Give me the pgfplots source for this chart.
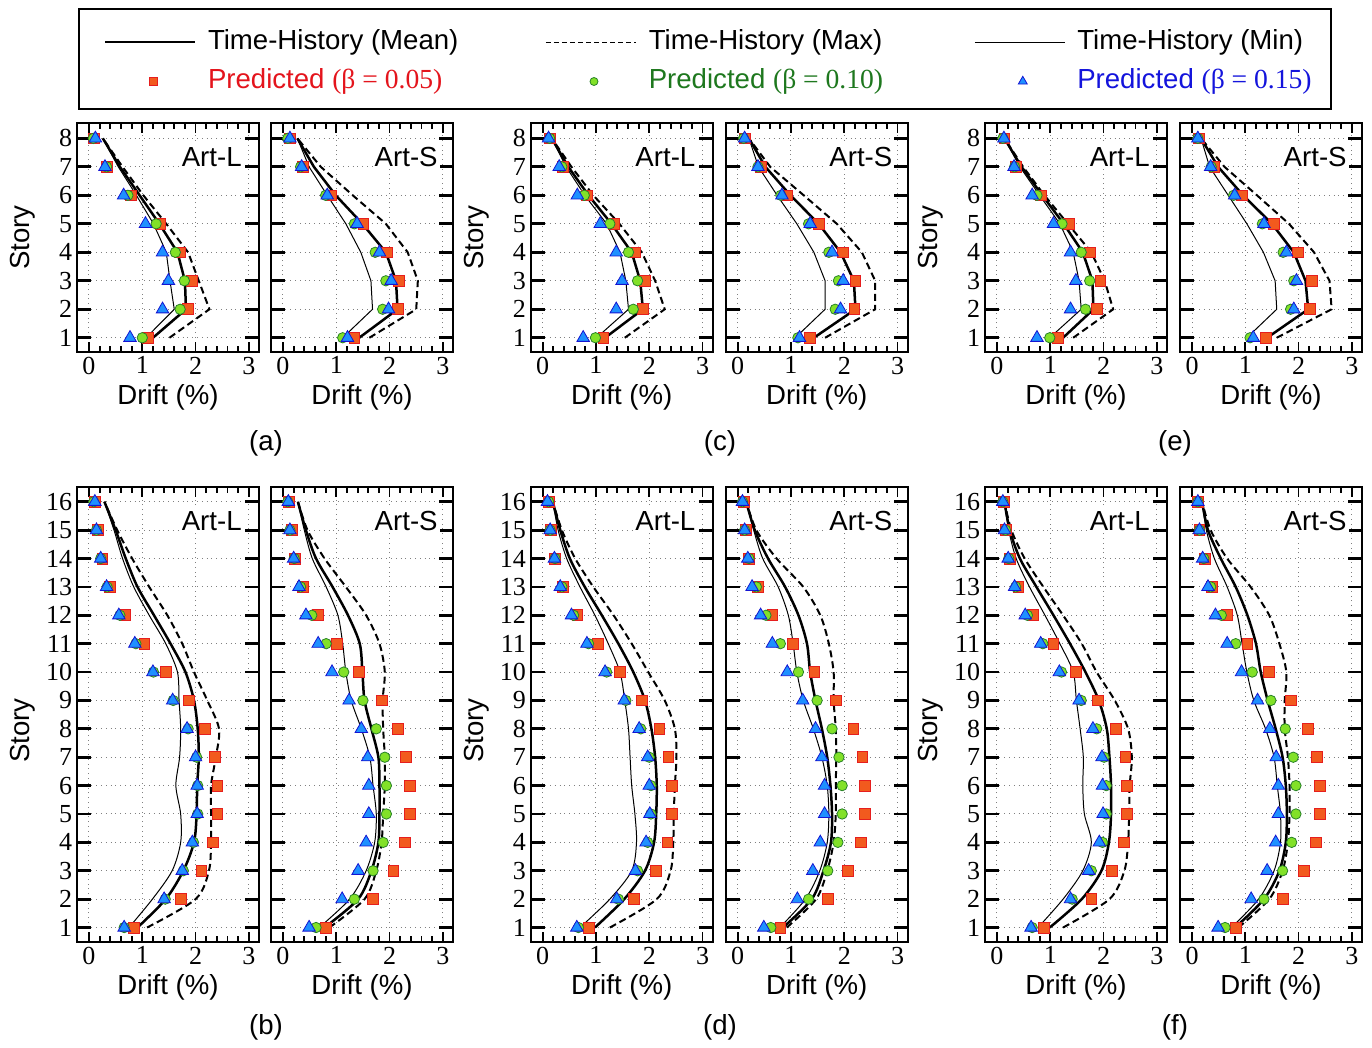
\documentclass[border=0pt]{standalone}
\usepackage{pgfplots}
\pgfplotsset{compat=1.18}
\usepackage{pgfplotstable}
\usepackage{fontspec}
\setmainfont{Liberation Sans}
\newfontfamily\tms{Liberation Serif}

\definecolor{sqfill}{RGB}{242,90,30}
\definecolor{sqedge}{RGB}{230,30,30}
\definecolor{cifill}{RGB}{130,225,40}
\definecolor{ciedge}{RGB}{40,130,40}
\definecolor{trfill}{RGB}{30,144,255}
\definecolor{tredge}{RGB}{20,20,210}
\definecolor{lred}{RGB}{228,20,28}
\definecolor{lgreen}{RGB}{30,120,30}
\definecolor{lblue}{RGB}{20,20,220}

\newcommand\sfont{\fontsize{13.8}{15}\selectfont}

% columns: story, time-history mean / max / min, predicted beta = 0.05 / 0.10 / 0.15
\pgfplotstableread{
s mean max min sq ci tr
1 1.20 1.51 1.07 1.11 1.00 0.77
2 1.82 2.26 1.60 1.86 1.71 1.38
3 1.80 2.06 1.52 1.93 1.79 1.49
4 1.66 1.86 1.45 1.71 1.62 1.38
5 1.32 1.45 1.21 1.34 1.26 1.06
6 0.95 1.02 0.89 0.78 0.73 0.65
7 0.58 0.63 0.55 0.34 0.33 0.30
8 0.26 0.26 0.26 0.09 0.08 0.12
}\tAL
\pgfplotstableread{
s mean max min sq ci tr
1 1.43 1.62 1.12 1.34 1.12 1.21
2 2.15 2.50 1.68 2.15 1.87 1.98
3 2.12 2.53 1.65 2.18 1.93 2.03
4 1.93 2.34 1.46 1.95 1.73 1.81
5 1.49 1.93 1.18 1.51 1.34 1.39
6 0.99 1.31 0.83 0.90 0.80 0.83
7 0.58 0.71 0.49 0.38 0.33 0.35
8 0.27 0.27 0.27 0.13 0.09 0.13
}\tAS
\pgfplotstableread{
s mean max min sq ci tr
1 1.17 1.54 1.01 1.14 0.99 0.76
2 1.88 2.29 1.61 1.88 1.70 1.38
3 1.83 2.11 1.56 1.92 1.78 1.49
4 1.67 1.86 1.45 1.73 1.61 1.38
5 1.29 1.44 1.20 1.34 1.26 1.08
6 0.86 0.95 0.79 0.83 0.78 0.65
7 0.48 0.54 0.44 0.38 0.36 0.31
8 0.17 0.17 0.17 0.14 0.13 0.11
}\tCL
\pgfplotstableread{
s mean max min sq ci tr
1 1.43 1.64 1.08 1.36 1.13 1.16
2 2.21 2.58 1.64 2.19 1.83 1.93
3 2.18 2.58 1.64 2.21 1.89 1.98
4 1.93 2.33 1.43 1.98 1.71 1.77
5 1.52 1.86 1.11 1.52 1.33 1.36
6 0.99 1.24 0.74 0.93 0.81 0.83
7 0.52 0.61 0.39 0.43 0.38 0.38
8 0.21 0.21 0.21 0.14 0.11 0.13
}\tCS
\pgfplotstableread{
s mean max min sq ci tr
1 1.24 1.43 0.99 1.14 0.99 0.75
2 1.81 2.18 1.58 1.88 1.66 1.38
3 1.79 2.02 1.54 1.94 1.74 1.48
4 1.61 1.77 1.43 1.74 1.58 1.38
5 1.25 1.33 1.18 1.35 1.22 1.06
6 0.85 0.89 0.80 0.83 0.75 0.66
7 0.46 0.49 0.43 0.36 0.33 0.32
8 0.14 0.14 0.14 0.14 0.11 0.13
}\tEL
\pgfplotstableread{
s mean max min sq ci tr
1 1.41 1.59 1.03 1.39 1.09 1.15
2 2.18 2.62 1.59 2.21 1.85 1.91
3 2.13 2.58 1.56 2.25 1.91 1.96
4 1.91 2.29 1.34 1.99 1.71 1.77
5 1.50 1.82 1.03 1.53 1.32 1.35
6 0.96 1.22 0.68 0.93 0.78 0.80
7 0.49 0.61 0.33 0.42 0.36 0.35
8 0.17 0.17 0.17 0.13 0.11 0.11
}\tES
\pgfplotstableread{
s mean max min sq ci tr
1 0.91 1.09 0.75 0.84 0.66 0.66
2 1.44 2.00 1.19 1.72 1.43 1.41
3 1.77 2.25 1.56 2.11 1.77 1.75
4 1.97 2.29 1.72 2.33 1.96 1.94
5 2.02 2.29 1.72 2.41 2.04 2.03
6 2.03 2.29 1.63 2.41 2.04 2.03
7 2.06 2.38 1.70 2.36 2.02 2.00
8 2.04 2.44 1.72 2.18 1.86 1.84
9 1.97 2.22 1.69 1.88 1.58 1.57
10 1.81 1.97 1.66 1.44 1.21 1.20
11 1.53 1.75 1.44 1.04 0.88 0.86
12 1.22 1.47 1.13 0.67 0.58 0.56
13 0.91 1.13 0.84 0.39 0.34 0.33
14 0.69 0.81 0.63 0.25 0.22 0.22
15 0.50 0.53 0.47 0.16 0.14 0.14
16 0.29 0.29 0.29 0.11 0.09 0.11
}\tBL
\pgfplotstableread{
s mean max min sq ci tr
1 0.78 0.87 0.68 0.81 0.62 0.49
2 1.41 1.53 1.25 1.68 1.34 1.11
3 1.66 1.75 1.56 2.07 1.69 1.41
4 1.79 1.85 1.72 2.29 1.88 1.56
5 1.81 1.88 1.75 2.38 1.94 1.61
6 1.81 1.91 1.69 2.38 1.94 1.61
7 1.79 1.91 1.63 2.31 1.91 1.59
8 1.66 1.88 1.47 2.16 1.75 1.47
9 1.53 1.87 1.28 1.85 1.50 1.24
10 1.49 1.91 1.18 1.42 1.14 0.92
11 1.44 1.81 1.12 1.01 0.81 0.66
12 1.22 1.56 1.03 0.65 0.54 0.43
13 0.93 1.18 0.81 0.38 0.33 0.30
14 0.62 0.78 0.55 0.23 0.21 0.20
15 0.43 0.46 0.40 0.16 0.13 0.13
16 0.28 0.28 0.28 0.11 0.09 0.10
}\tBS
\pgfplotstableread{
s mean max min sq ci tr
1 0.98 1.26 0.70 0.86 0.67 0.64
2 1.53 2.14 1.26 1.71 1.42 1.39
3 1.92 2.40 1.67 2.12 1.78 1.74
4 2.09 2.45 1.76 2.34 1.97 1.94
5 2.13 2.46 1.73 2.42 2.03 2.01
6 2.14 2.48 1.67 2.42 2.03 2.00
7 2.11 2.51 1.64 2.36 2.00 1.97
8 2.04 2.48 1.61 2.19 1.84 1.81
9 1.92 2.29 1.54 1.86 1.56 1.53
10 1.70 1.98 1.45 1.45 1.20 1.17
11 1.42 1.67 1.23 1.03 0.86 0.83
12 1.11 1.33 0.98 0.65 0.58 0.54
13 0.79 0.95 0.70 0.38 0.36 0.33
14 0.51 0.61 0.45 0.23 0.23 0.22
15 0.33 0.36 0.29 0.15 0.14 0.14
16 0.19 0.19 0.19 0.11 0.11 0.09
}\tDL
\pgfplotstableread{
s mean max min sq ci tr
1 0.85 0.92 0.79 0.80 0.62 0.49
2 1.39 1.47 1.27 1.69 1.33 1.12
3 1.61 1.68 1.54 2.07 1.69 1.41
4 1.75 1.80 1.68 2.31 1.88 1.55
5 1.77 1.84 1.71 2.39 1.96 1.63
6 1.74 1.84 1.68 2.39 1.96 1.63
7 1.68 1.85 1.58 2.34 1.90 1.58
8 1.58 1.84 1.42 2.17 1.77 1.46
9 1.46 1.80 1.23 1.85 1.49 1.22
10 1.36 1.80 1.11 1.44 1.14 0.93
11 1.30 1.71 1.04 1.03 0.80 0.65
12 1.14 1.55 0.95 0.65 0.53 0.43
13 0.89 1.23 0.76 0.38 0.35 0.27
14 0.57 0.73 0.47 0.21 0.21 0.19
15 0.32 0.35 0.30 0.15 0.13 0.13
16 0.16 0.16 0.16 0.11 0.09 0.09
}\tDS
\pgfplotstableread{
s mean max min sq ci tr
1 0.99 1.24 0.77 0.88 0.66 0.64
2 1.59 2.11 1.24 1.77 1.41 1.38
3 1.96 2.39 1.61 2.16 1.77 1.72
4 2.10 2.46 1.77 2.38 1.98 1.92
5 2.14 2.48 1.64 2.44 2.05 1.99
6 2.14 2.49 1.61 2.44 2.05 1.98
7 2.11 2.53 1.62 2.41 2.01 1.97
8 2.06 2.46 1.56 2.23 1.87 1.80
9 1.91 2.21 1.49 1.89 1.58 1.54
10 1.66 1.87 1.43 1.48 1.21 1.17
11 1.37 1.59 1.18 1.06 0.86 0.82
12 1.06 1.24 0.90 0.68 0.57 0.53
13 0.74 0.87 0.61 0.40 0.35 0.33
14 0.43 0.52 0.36 0.24 0.22 0.21
15 0.24 0.27 0.22 0.16 0.16 0.14
16 0.14 0.14 0.14 0.13 0.11 0.11
}\tFL
\pgfplotstableread{
s mean max min sq ci tr
1 0.81 0.87 0.74 0.83 0.62 0.49
2 1.35 1.45 1.25 1.70 1.35 1.11
3 1.64 1.70 1.54 2.10 1.70 1.41
4 1.76 1.80 1.66 2.32 1.87 1.57
5 1.78 1.83 1.66 2.40 1.95 1.62
6 1.76 1.83 1.60 2.40 1.95 1.62
7 1.70 1.80 1.54 2.34 1.90 1.58
8 1.57 1.74 1.38 2.17 1.75 1.46
9 1.42 1.74 1.16 1.86 1.48 1.23
10 1.29 1.77 1.03 1.45 1.13 0.93
11 1.20 1.64 0.94 1.04 0.82 0.66
12 1.04 1.45 0.85 0.66 0.55 0.44
13 0.82 1.10 0.66 0.38 0.35 0.30
14 0.54 0.66 0.42 0.24 0.22 0.20
15 0.30 0.35 0.27 0.14 0.14 0.14
16 0.19 0.19 0.19 0.11 0.11 0.11
}\tFS

\tikzset{artlab/.style={anchor=east, fill=white, inner sep=1pt, font=\sfont}}

\pgfplotsset{
  meanline/.style={black, line width=1.25pt},
  maxline/.style={black, line width=1pt, dash pattern=on 3.5pt off 2pt},
  minline/.style={black, line width=0.5pt},
  sqmark/.style={only marks, mark=square*, mark size=2.7pt,
    mark options={solid, fill=sqfill, draw=sqedge, line width=0.4pt}},
  cimark/.style={only marks, mark=*, mark size=2.6pt,
    mark options={solid, fill=cifill, draw=ciedge, line width=0.4pt}},
  trmark/.style={only marks, mark=triangle*, mark size=3.6pt,
    mark options={solid, fill=trfill, draw=tredge, line width=0.4pt}},
  % first legend row reserves a little extra room above it
  lineleg/.style={legend image code/.code={%
    \path[draw=none, fill=none] (0pt,-4pt) rectangle (49pt,9.5pt);
    \draw[##1] (4pt,0pt) -- (49pt,0pt);}},
  markleg/.style={legend image code/.code={%
    \path[draw=none, fill=none] (0pt,-4pt) rectangle (49pt,4pt);
    \draw[##1] plot coordinates {(28pt,0pt)};}},
  panel/.style={
    scale only axis, width=91pt, anchor=north west,
    xmin=-0.225, xmax=3.19,
    xtick={0,1,2,3}, minor x tick num=4,
    grid=major, major grid style={gray, dotted, line width=0.5pt},
    tick align=inside,
    axis line style={line width=1pt},
    major tick length=7pt, minor tick length=3.2pt,
    xtick style={black, line width=0.9pt, /pgfplots/major tick length=5pt},
    ytick style={black, line width=1.4pt},
    tick label style={font=\tms\fontsize{13}{14}\selectfont, inner sep=2.2pt},
    /pgf/number format/assume math mode=true,
    label style={font=\sfont},
    xlabel={Drift (\%)},
    xlabel style={anchor=center},
    ylabel style={anchor=center},
  },
  toprow/.style={height=114.5pt, ymin=0.5, ymax=8.54, ytick={1,...,8},
    xlabel style={at={(axis description cs:0.5,-0.1965)}},
    ylabel style={at={(axis description cs:-0.297,0.5)}}},
  botrow/.style={height=227.5pt, ymin=0.49, ymax=16.52, ytick={1,...,16},
    xlabel style={at={(axis description cs:0.5,-0.0989)}},
    ylabel style={at={(axis description cs:-0.297,0.465)}}},
  Lpanel/.style={ylabel={Story}},
  Spanel/.style={yticklabels={}},
}

% the six series of one panel: three time-history envelopes and three predictions
\newcommand\drawpanel[2][]{%
  \addplot[minline,#1] table[x=min,y=s]{#2};
  \addplot[maxline,#1] table[x=max,y=s]{#2};
  \addplot[meanline,#1] table[x=mean,y=s]{#2};
  \addplot[sqmark] table[x=sq,y=s]{#2};
  \addplot[cimark] table[x=ci,y=s]{#2};
  \addplot[trmark] table[x=tr,y=s]{#2};
}

\begin{document}
\begin{tikzpicture}
\useasboundingbox (0pt,0pt) rectangle (686pt,-524pt);

% ---------------- 8-story frames ----------------
\begin{axis}[panel, toprow, Lpanel, at={(38.5pt,-61.5pt)},
  legend columns=3, legend cell align=left,
  legend style={at={(axis description cs:0,1)}, anchor=north west,
    xshift=0.5pt, yshift=57.5pt, draw=black, line width=1pt,
    inner xsep=9pt, inner ysep=7.25pt, column sep=0pt, row sep=6.5pt,
    font=\fontsize{13.8}{15}\selectfont,
    nodes={inner sep=0pt, text height=10pt, text depth=3pt}}]
\addlegendimage{lineleg, black, line width=1pt}
\addlegendentry{\hspace*{6pt}\makebox[165pt][l]{Time-History (Mean)}}
\addlegendimage{lineleg, black, line width=0.8pt, dash pattern=on 2.5pt off 1.5pt}
\addlegendentry{\hspace*{6pt}\makebox[159pt][l]{Time-History (Max)}}
\addlegendimage{lineleg, minline}
\addlegendentry{\hspace*{6pt}\makebox[118pt][l]{Time-History (Min)}}
\addlegendimage{markleg, sqmark, mark size=2pt}
\addlegendentry{\hspace*{6pt}\makebox[165pt][l]{\color{lred}Predicted {\tms(β = 0.05)}}}
\addlegendimage{markleg, cimark, mark size=2pt}
\addlegendentry{\hspace*{6pt}\makebox[159pt][l]{\color{lgreen}Predicted {\tms(β = 0.10)}}}
\addlegendimage{markleg, trmark, mark size=2.6pt}
\addlegendentry{\hspace*{6pt}\makebox[118pt][l]{\color{lblue}Predicted {\tms(β = 0.15)}}}
\drawpanel{\tAL}
\node[artlab] at ([xshift=-7.5pt,yshift=-17pt]axis description cs:1,1) {Art-L};
\end{axis}

\begin{axis}[panel, toprow, Spanel, at={(135.5pt,-61.5pt)}]
\drawpanel{\tAS}
\node[artlab] at ([xshift=-6.5pt,yshift=-17pt]axis description cs:1,1) {Art-S};
\end{axis}

\begin{axis}[panel, toprow, Lpanel, at={(265.35pt,-61.5pt)}]
\drawpanel{\tCL}
\node[artlab] at ([xshift=-7.5pt,yshift=-17pt]axis description cs:1,1) {Art-L};
\end{axis}

\begin{axis}[panel, toprow, Spanel, at={(362.85pt,-61.5pt)}]
\drawpanel{\tCS}
\node[artlab] at ([xshift=-6.5pt,yshift=-17pt]axis description cs:1,1) {Art-S};
\end{axis}

\begin{axis}[panel, toprow, Lpanel, at={(492.5pt,-61.5pt)}]
\drawpanel{\tEL}
\node[artlab] at ([xshift=-7.5pt,yshift=-17pt]axis description cs:1,1) {Art-L};
\end{axis}

\begin{axis}[panel, toprow, Spanel, at={(590pt,-61.5pt)}]
\drawpanel{\tES}
\node[artlab] at ([xshift=-6.5pt,yshift=-17pt]axis description cs:1,1) {Art-S};
\end{axis}

% ---------------- 16-story frames ----------------
\begin{axis}[panel, botrow, Lpanel, at={(38.5pt,-243.5pt)}]
\drawpanel[smooth]{\tBL}
\node[artlab] at ([xshift=-7.5pt,yshift=-17pt]axis description cs:1,1) {Art-L};
\end{axis}

\begin{axis}[panel, botrow, Spanel, at={(135.5pt,-243.5pt)}]
\drawpanel[smooth]{\tBS}
\node[artlab] at ([xshift=-6.5pt,yshift=-17pt]axis description cs:1,1) {Art-S};
\end{axis}

\begin{axis}[panel, botrow, Lpanel, at={(265.35pt,-243.5pt)}]
\drawpanel[smooth]{\tDL}
\node[artlab] at ([xshift=-7.5pt,yshift=-17pt]axis description cs:1,1) {Art-L};
\end{axis}

\begin{axis}[panel, botrow, Spanel, at={(362.85pt,-243.5pt)}]
\drawpanel[smooth]{\tDS}
\node[artlab] at ([xshift=-6.5pt,yshift=-17pt]axis description cs:1,1) {Art-S};
\end{axis}

\begin{axis}[panel, botrow, Lpanel, at={(492.5pt,-243.5pt)}]
\drawpanel[smooth]{\tFL}
\node[artlab] at ([xshift=-7.5pt,yshift=-17pt]axis description cs:1,1) {Art-L};
\end{axis}

\begin{axis}[panel, botrow, Spanel, at={(590pt,-243.5pt)}]
\drawpanel[smooth]{\tFS}
\node[artlab] at ([xshift=-6.5pt,yshift=-17pt]axis description cs:1,1) {Art-S};
\end{axis}

% sub-figure captions
\node[font=\sfont] at (133pt,-221.5pt) {(a)};
\node[font=\sfont] at (360pt,-221.5pt) {(c)};
\node[font=\sfont] at (587.5pt,-221.5pt) {(e)};
\node[font=\sfont] at (133pt,-513.5pt) {(b)};
\node[font=\sfont] at (360pt,-513.5pt) {(d)};
\node[font=\sfont] at (587.5pt,-513.5pt) {(f)};
\end{tikzpicture}
\end{document}
